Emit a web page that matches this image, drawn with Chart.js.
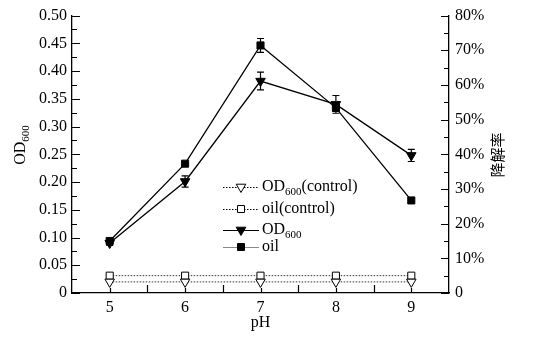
<!DOCTYPE html>
<html>
<head>
<meta charset="utf-8">
<script src="https://cdn.jsdelivr.net/npm/chart.js@4.4.0/dist/chart.umd.min.js"></script>
<style>
  body { margin: 0; background: #fff; }
  #wrap { width: 542px; height: 337px; }
</style>
</head>
<body>
<div id="wrap"><canvas id="chart"></canvas></div>
<script>
// data
var pH = [5, 6, 7, 8, 9];
var od600 = [0.090, 0.201, 0.382, 0.340, 0.248];
var od600Err = [0.004, 0.010, 0.016, 0.016, 0.011];
var oilRate = [15.0, 37.3, 71.4, 53.4, 26.7];      // 降解率 (%)
var oilRateErr = [0, 0, 2.0, 1.0, 0];
var od600Control = [0.020, 0.020, 0.020, 0.020, 0.020];
var oilControl = [5.0, 5.0, 5.0, 5.0, 5.0];

var leftTicks = [0, 0.05, 0.10, 0.15, 0.20, 0.25, 0.30, 0.35, 0.40, 0.45, 0.50];
var rightTicks = [0, 10, 20, 30, 40, 50, 60, 70, 80];

var serif = '"Liberation Serif", "Times New Roman", serif';

function pts(xs, ys) {
	return xs.map(function (x, i) { return {x: x, y: ys[i]}; });
}

function marker(ctx, style, x, y, filled) {
	ctx.save();
	ctx.lineWidth = 1;
	ctx.strokeStyle = '#000';
	ctx.fillStyle = filled ? '#000' : '#fff';
	ctx.beginPath();
	if (style === 'rect') {
		ctx.rect(x - 3.5, y - 3.5, 7, 7);
	} else {
		ctx.moveTo(x - 4.8, y - 2.8);
		ctx.lineTo(x + 4.8, y - 2.8);
		ctx.lineTo(x, y + 5.5);
		ctx.closePath();
	}
	ctx.fill();
	ctx.stroke();
	ctx.restore();
}

// text with a subscript part: parts = [[text, isSub], ...]
function subText(ctx, parts, x, y) {
	var cx = x;
	parts.forEach(function (p) {
		ctx.font = (p[1] ? '11px ' : '16px ') + serif;
		ctx.fillText(p[0], cx, p[1] ? y + 5 : y);
		cx += ctx.measureText(p[0]).width;
	});
	return cx - x;
}

var extras = {
	id: 'extras',
	afterDatasetsDraw: function (chart) {
		var ctx = chart.ctx;
		var xs = chart.scales.x;
		var sets = [[chart.scales.y, od600, od600Err], [chart.scales.y1, oilRate, oilRateErr]];
		ctx.save();
		ctx.strokeStyle = '#000';
		ctx.lineWidth = 1.2;
		sets.forEach(function (s) {
			for (var i = 0; i < pH.length; i++) {
				if (!s[2][i]) continue;
				var px = xs.getPixelForValue(pH[i]);
				var t = s[0].getPixelForValue(s[1][i] + s[2][i]);
				var b = s[0].getPixelForValue(s[1][i] - s[2][i]);
				ctx.beginPath();
				ctx.moveTo(px, t); ctx.lineTo(px, b);
				ctx.moveTo(px - 3.5, t); ctx.lineTo(px + 3.5, t);
				ctx.moveTo(px - 3.5, b); ctx.lineTo(px + 3.5, b);
				ctx.stroke();
			}
		});
		ctx.restore();
	},
	afterDraw: function (chart) {
		var ctx = chart.ctx;
		var a = chart.chartArea;
		var xs = chart.scales.x, yl = chart.scales.y, yr = chart.scales.y1;
		ctx.save();
		ctx.strokeStyle = '#000';
		ctx.lineWidth = 1.2;
		ctx.beginPath();
		// inward ticks
		for (var i = 0; i <= 20; i++) {
			var y = Math.round(yl.getPixelForValue(i * 0.025)) + 0.5;
			ctx.moveTo(a.left, y); ctx.lineTo(a.left + (i % 2 ? 5 : 8), y);
		}
		for (var j = 0; j <= 16; j++) {
			var y2 = Math.round(yr.getPixelForValue(j * 5)) + 0.5;
			ctx.moveTo(a.right, y2); ctx.lineTo(a.right - (j % 2 ? 5 : 8), y2);
		}
		for (var k = 1; k < 10; k++) {
			var x = Math.round(xs.getPixelForValue(4.5 + k * 0.5)) + 0.5;
			ctx.moveTo(x, a.bottom); ctx.lineTo(x, a.bottom - (k % 2 ? 5 : 8));
		}
		ctx.stroke();

		// axis titles
		ctx.fillStyle = '#000';
		ctx.textBaseline = 'middle';
		ctx.textAlign = 'center';
		ctx.font = '16px ' + serif;
		ctx.fillText('pH', (a.left + a.right) / 2, 323);

		ctx.save();
		ctx.translate(21, 145);
		ctx.rotate(-Math.PI / 2);
		ctx.textAlign = 'left';
		ctx.font = '16px ' + serif;
		var w = ctx.measureText('OD').width;
		ctx.font = '11px ' + serif;
		w += ctx.measureText('600').width;
		subText(ctx, [['OD', false], ['600', true]], -w / 2, 0);
		ctx.restore();

		ctx.save();
		ctx.translate(497, 155);
		ctx.rotate(-Math.PI / 2);
		ctx.font = '15px "Noto Sans CJK SC", sans-serif';
		ctx.fillText('降解率', 0, 0);
		ctx.restore();

		// legend inside the plot
		var rows = [
			{y: 187, parts: [['OD', false], ['600', true], ['(control)', false]], style: 'triangle', filled: false, dash: [1.5, 1.5], color: '#000'},
			{y: 209, parts: [['oil(control)', false]], style: 'rect', filled: false, dash: [1.5, 1.5], color: '#000'},
			{y: 230, parts: [['OD', false], ['600', true]], style: 'triangle', filled: true, dash: [], color: '#000'},
			{y: 247, parts: [['oil', false]], style: 'rect', filled: true, dash: [], color: '#888'}
		];
		ctx.textAlign = 'left';
		rows.forEach(function (r) {
			ctx.save();
			ctx.setLineDash(r.dash);
			ctx.strokeStyle = r.color;
			ctx.lineWidth = 1;
			ctx.beginPath();
			ctx.moveTo(223, r.y + 0.5); ctx.lineTo(259, r.y + 0.5);
			ctx.stroke();
			ctx.restore();
			marker(ctx, r.style, 241, r.y, r.filled);
			subText(ctx, r.parts, 262, r.y);
		});
		ctx.restore();
	}
};

var ctx = document.getElementById('chart');
var chart = new Chart(ctx, {
	type: 'line',
	data: {
		datasets: [{
			label: 'OD600(control)',
			data: pts(pH, od600Control),
			yAxisID: 'y',
			borderColor: '#333',
			borderWidth: 1,
			borderDash: [1.5, 1.5],
			pointStyle: 'triangle',
			pointRotation: 180,
			pointRadius: 5.5,
			pointBackgroundColor: '#fff',
			pointBorderColor: '#000',
			pointBorderWidth: 1
		}, {
			label: 'oil(control)',
			data: pts(pH, oilControl),
			yAxisID: 'y1',
			borderColor: '#333',
			borderWidth: 1,
			borderDash: [1.5, 1.5],
			pointStyle: 'rect',
			pointRadius: 5,
			pointBackgroundColor: '#fff',
			pointBorderColor: '#000',
			pointBorderWidth: 1
		}, {
			label: 'OD600',
			data: pts(pH, od600),
			yAxisID: 'y',
			borderColor: '#000',
			borderWidth: 1.3,
			pointStyle: 'triangle',
			pointRotation: 180,
			pointRadius: 5.5,
			pointBackgroundColor: '#000',
			pointBorderColor: '#000',
			pointBorderWidth: 1
		}, {
			label: 'oil',
			data: pts(pH, oilRate),
			yAxisID: 'y1',
			borderColor: '#000',
			borderWidth: 1.3,
			pointStyle: 'rect',
			pointRadius: 5,
			pointBackgroundColor: '#000',
			pointBorderColor: '#000',
			pointBorderWidth: 1
		}]
	},
	options: {
		responsive: true,
		maintainAspectRatio: false,
		devicePixelRatio: 1,
		animation: false,
		layout: {padding: {top: 15, left: 0, right: 0, bottom: 0}},
		plugins: {legend: {display: false}, tooltip: {enabled: false}},
		scales: {
			x: {
				type: 'linear',
				min: 4.5,
				max: 9.5,
				afterBuildTicks: function (s) { s.ticks = pH.map(function (v) { return {value: v}; }); },
				afterFit: function (s) { s.height = 44; },
				grid: {display: false, drawTicks: false},
				border: {display: true, color: '#000', width: 1.3},
				ticks: {color: '#000', padding: 5, font: {family: serif, size: 16}, maxRotation: 0}
			},
			y: {
				position: 'left',
				min: 0,
				max: 0.5,
				afterBuildTicks: function (s) { s.ticks = leftTicks.map(function (v) { return {value: v}; }); },
				afterFit: function (s) { s.width = 72; },
				grid: {display: false, drawTicks: false},
				border: {display: true, color: '#000', width: 1.3},
				ticks: {
					color: '#000', padding: 5, font: {family: serif, size: 16},
					callback: function (v) { return v === 0 ? '0' : v.toFixed(2); }
				}
			},
			y1: {
				position: 'right',
				min: 0,
				max: 80,
				afterBuildTicks: function (s) { s.ticks = rightTicks.map(function (v) { return {value: v}; }); },
				afterFit: function (s) { s.width = 93; },
				grid: {display: false, drawTicks: false},
				border: {display: true, color: '#000', width: 1.3},
				ticks: {
					color: '#000', padding: 6, font: {family: serif, size: 16},
					callback: function (v) { return v === 0 ? '0' : v + '%'; }
				}
			}
		}
	},
	plugins: [extras]
});
</script>
</body>
</html>
